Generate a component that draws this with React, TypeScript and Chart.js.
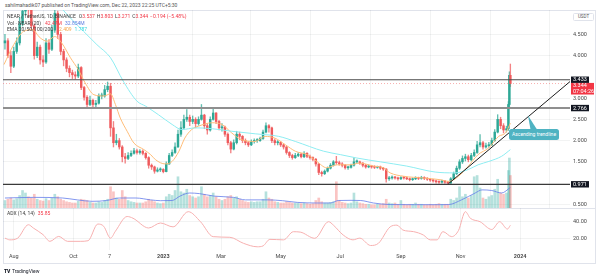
import React, { useEffect, useRef } from 'react';
import { Chart, registerables } from 'chart.js';

Chart.register(...registerables);

// x axis unit: days since 2022-08-01 (Aug 1, 2022 = 0)
const xMin = -11;
const xMax = 569;

const candleDays = [
  -9, -6, -3, 0, 3, 6, 9, 12, 15, 18,
  21, 24, 27, 30, 33, 36, 39, 42, 45, 48,
  51, 54, 57, 60, 63, 66, 69, 72, 75, 78,
  81, 84, 87, 90, 93, 96, 99, 102, 105, 108,
  111, 114, 117, 120, 123, 126, 129, 132, 135, 138,
  141, 144, 147, 150, 153, 156, 159, 162, 165, 168,
  171, 174, 177, 180, 183, 186, 189, 192, 195, 198,
  201, 204, 207, 210, 213, 216, 219, 222, 225, 228,
  231, 234, 237, 240, 243, 246, 249, 252, 255, 258,
  261, 264, 267, 270, 273, 276, 279, 282, 285, 288,
  291, 294, 297, 300, 303, 306, 309, 312, 315, 318,
  321, 324, 327, 330, 333, 336, 339, 342, 345, 348,
  351, 354, 357, 360, 363, 366, 369, 372, 375, 378,
  381, 384, 387, 390, 393, 396, 399, 402, 405, 408,
  411, 414, 417, 420, 423, 426, 429, 432, 435, 438,
  441, 444, 447, 450, 453, 456, 459, 462, 465, 468,
  471, 474, 477, 480, 483, 486, 489, 492, 495, 498,
  501, 504, 506, 507, 508,
];

const firstOpen = 4.3;

const closes = [
  4.35, 4.0, 3.75, 4.1, 4.3, 4.75, 5.05, 5.3, 5.1, 4.7,
  4.0, 4.2, 3.9, 3.85, 4.3, 4.15, 4.6, 5.0, 4.5, 4.1,
  3.9, 3.7, 3.6, 3.55, 3.52, 3.72, 3.25, 3.02, 2.85, 2.95,
  2.85, 2.88, 3.05, 3.05, 3.2, 3.28, 2.3, 1.95, 2.0, 1.85,
  1.62, 1.58, 1.65, 1.7, 1.76, 1.72, 1.75, 1.7, 1.6, 1.42,
  1.38, 1.28, 1.31, 1.32, 1.27, 1.45, 1.65, 1.72, 1.85, 2.15,
  2.3, 2.5, 2.55, 2.45, 2.5, 2.4, 2.5, 2.6, 2.35, 2.25,
  2.5, 2.65, 2.45, 2.3, 2.32, 2.15, 1.95, 1.8, 1.95, 2.15,
  2.1, 2.0, 1.95, 1.9, 1.98, 2.0, 2.0, 2.05, 2.2, 2.35,
  2.3, 2.0, 1.95, 1.96, 1.9, 1.85, 1.72, 1.65, 1.6, 1.65,
  1.68, 1.62, 1.7, 1.63, 1.6, 1.56, 1.45, 1.25, 1.22, 1.28,
  1.35, 1.42, 1.5, 1.48, 1.45, 1.42, 1.36, 1.37, 1.42, 1.5,
  1.5, 1.47, 1.42, 1.38, 1.4, 1.38, 1.37, 1.38, 1.35, 1.33,
  1.1, 1.12, 1.14, 1.12, 1.1, 1.13, 1.12, 1.1, 1.08, 1.1,
  1.12, 1.11, 1.13, 1.11, 1.09, 1.07, 1.05, 1.03, 1.02, 1.05,
  1.02, 1.0, 1.1, 1.22, 1.35, 1.5, 1.58, 1.62, 1.55, 1.65,
  1.72, 1.9, 1.95, 1.85, 1.88, 1.9, 2.0, 2.2, 2.5, 2.35,
  2.25, 2.28, 2.85, 3.537, 3.344,
];

const highs = [
  4.5, 4.4, 4.1, 4.2, 4.42, 4.9, 5.3, 5.6, 5.5, 5.2,
  4.75, 4.32, 4.25, 4.0, 4.4, 4.38, 4.72, 5.15, 5.05, 4.55,
  4.15, 3.95, 3.76, 3.66, 3.62, 3.8, 3.74, 3.28, 3.06, 3.05,
  2.98, 2.95, 3.1, 3.12, 3.3, 3.38, 3.35, 2.45, 2.15, 2.05,
  1.88, 1.7, 1.72, 1.76, 1.82, 1.8, 1.79, 1.78, 1.72, 1.62,
  1.45, 1.4, 1.36, 1.36, 1.34, 1.5, 1.7, 1.78, 1.95, 2.25,
  2.45, 2.6, 2.73, 2.6, 2.58, 2.54, 2.56, 2.85, 2.62, 2.4,
  2.56, 2.76, 2.66, 2.48, 2.4, 2.34, 2.18, 1.98, 2.02, 2.22,
  2.2, 2.12, 2.04, 1.98, 2.02, 2.04, 2.05, 2.08, 2.25, 2.42,
  2.38, 2.32, 2.04, 2.0, 1.98, 1.92, 1.86, 1.74, 1.68, 1.7,
  1.72, 1.7, 1.74, 1.72, 1.66, 1.62, 1.58, 1.46, 1.28, 1.31,
  1.38, 1.46, 1.53, 1.63, 1.52, 1.48, 1.44, 1.4, 1.45, 1.6,
  1.55, 1.52, 1.48, 1.44, 1.43, 1.42, 1.41, 1.4, 1.4, 1.37,
  1.34, 1.16, 1.17, 1.16, 1.14, 1.15, 1.15, 1.14, 1.12, 1.12,
  1.15, 1.14, 1.16, 1.15, 1.13, 1.11, 1.09, 1.07, 1.05, 1.07,
  1.06, 1.04, 1.13, 1.26, 1.4, 1.55, 1.64, 1.68, 1.66, 1.7,
  1.78, 1.98, 2.14, 1.98, 1.94, 1.96, 2.06, 2.26, 2.61, 2.55,
  2.4, 2.34, 2.92, 3.62, 3.803,
];

const lows = [
  4.15, 3.95, 3.6, 3.72, 4.05, 4.25, 4.7, 4.95, 4.9, 4.6,
  3.92, 3.95, 3.8, 3.74, 3.82, 4.05, 4.12, 4.55, 4.4, 4.02,
  3.76, 3.62, 3.5, 3.46, 3.45, 3.48, 3.2, 2.95, 2.78, 2.82,
  2.78, 2.8, 2.86, 2.98, 3.02, 3.15, 2.1, 1.85, 1.9, 1.8,
  1.5, 1.47, 1.55, 1.62, 1.68, 1.68, 1.68, 1.66, 1.56, 1.35,
  1.32, 1.23, 1.26, 1.27, 1.24, 1.26, 1.44, 1.62, 1.7, 1.84,
  2.1, 2.28, 2.45, 2.35, 2.4, 2.3, 2.36, 2.48, 2.28, 2.15,
  2.22, 2.48, 2.4, 2.25, 2.22, 2.1, 1.9, 1.71, 1.78, 1.92,
  2.02, 1.95, 1.9, 1.86, 1.88, 1.94, 1.96, 1.98, 2.03, 2.18,
  2.2, 1.95, 1.9, 1.9, 1.86, 1.8, 1.68, 1.6, 1.56, 1.58,
  1.62, 1.59, 1.6, 1.6, 1.56, 1.52, 1.4, 1.2, 1.16, 1.2,
  1.26, 1.33, 1.4, 1.44, 1.42, 1.38, 1.33, 1.32, 1.35, 1.4,
  1.46, 1.44, 1.38, 1.35, 1.36, 1.35, 1.34, 1.35, 1.32, 1.3,
  1.02, 1.06, 1.09, 1.09, 1.07, 1.08, 1.09, 1.08, 1.05, 1.06,
  1.08, 1.08, 1.09, 1.08, 1.06, 1.04, 1.02, 1.0, 0.99, 1.0,
  0.99, 0.97, 0.99, 1.08, 1.2, 1.32, 1.46, 1.52, 1.5, 1.52,
  1.62, 1.7, 1.85, 1.8, 1.82, 1.84, 1.88, 1.98, 2.18, 2.28,
  2.18, 2.2, 2.24, 2.8, 3.271,
];

// volume, millions of NEAR
const volumes = [
  12, 14, 16, 13, 15, 20, 28, 24, 18, 16,
  22, 14, 12, 11, 15, 12, 16, 22, 18, 14,
  12, 10, 9, 8, 8, 11, 14, 13, 12, 9,
  8, 8, 10, 9, 12, 14, 34, 26, 16, 14,
  28, 18, 12, 10, 9, 8, 8, 8, 10, 14,
  12, 10, 8, 7, 8, 18, 22, 20, 28, 50,
  26, 24, 30, 20, 18, 16, 18, 34, 22, 18,
  20, 24, 18, 14, 12, 14, 18, 20, 16, 18,
  14, 12, 10, 9, 10, 9, 10, 10, 14, 26,
  16, 14, 10, 9, 8, 8, 10, 9, 8, 8,
  8, 7, 8, 7, 6, 7, 12, 16, 10, 8,
  8, 9, 10, 42, 12, 9, 8, 7, 8, 24,
  10, 8, 7, 6, 6, 5, 5, 6, 6, 7,
  14, 8, 7, 8, 6, 12, 6, 5, 6, 6,
  8, 6, 6, 5, 5, 6, 5, 6, 7, 6,
  6, 6, 14, 12, 16, 34, 18, 22, 16, 20,
  50, 52, 32, 16, 14, 18, 20, 30, 46, 24,
  22, 24, 60, 80, 52,
];

const volMaDays = [-9, 20, 50, 65, 80, 95, 108, 125, 140, 150, 162, 170, 180, 190, 205, 225, 237, 260, 275, 290, 310, 324, 332, 345, 355, 368, 385, 410, 436, 445, 458, 472, 479, 489, 499, 508];
const volMaValues = [16, 17, 16, 13, 10.7, 12, 16, 16, 13, 11.7, 12, 19, 24, 23, 19, 17, 13, 13, 11.7, 9, 8, 8, 12, 12.3, 12, 8, 5.5, 5.3, 5.3, 5.5, 13, 24, 29, 28, 24, 32.854];

const ema20Days = [-10, 0, 10, 19, 27, 34, 42, 49, 58, 66, 73, 82, 92, 99, 104, 109, 116, 123, 133, 140, 145, 155, 162, 169, 175, 182, 189, 203, 213, 223, 233, 247, 257, 267, 278, 288, 300, 310, 320, 331, 344, 354, 368, 378, 385, 399, 419, 436, 445, 455, 465, 475, 486, 496, 503, 508];
const ema20Values = [3.79, 4.26, 4.57, 4.61, 4.42, 4.34, 4.45, 4.3, 3.95, 3.67, 3.36, 3.08, 3.05, 3.1, 2.85, 2.53, 2.22, 1.94, 1.79, 1.67, 1.55, 1.45, 1.51, 1.75, 2.06, 2.26, 2.34, 2.42, 2.38, 2.18, 2.02, 1.98, 2.1, 2.06, 1.9, 1.75, 1.67, 1.51, 1.36, 1.43, 1.43, 1.47, 1.4, 1.36, 1.24, 1.16, 1.12, 1.08, 1.04, 1.16, 1.4, 1.67, 1.83, 2.1, 2.18, 2.409];

const ema100Days = [44, 54.5, 71.5, 85, 99, 112, 126, 135, 148, 162, 172, 186, 203, 223, 247, 271, 288, 317, 334, 351, 375, 402, 431, 451, 465, 475, 486, 499, 508];
const ema100Values = [5.25, 4.97, 4.57, 4.26, 3.95, 3.4, 2.93, 2.81, 2.61, 2.38, 2.26, 2.3, 2.28, 2.22, 2.16, 2.1, 1.98, 1.75, 1.67, 1.59, 1.5, 1.4, 1.26, 1.24, 1.32, 1.43, 1.51, 1.63, 1.787];

const adxDays = [-9, -4, 4, 15, 20, 30, 37, 46, 55, 68, 76, 86, 92, 99, 104, 116, 122, 138, 150, 163, 178.5, 191, 204, 221, 235, 249, 255, 262, 276, 286, 293, 308, 322, 327, 337, 347, 354, 365, 373, 385, 392, 398, 409, 419, 426, 433, 439, 448, 455, 462, 467, 477, 489, 497, 505, 508];
const adxValues = [21, 19, 21, 36.5, 32.7, 25, 17.3, 23, 17.3, 17.3, 18, 37.3, 34.7, 21, 29, 46, 44, 32.7, 38.5, 34, 51.6, 40, 22.7, 22, 15, 11, 12, 19.6, 19, 28.4, 28, 20.8, 40, 36, 24.6, 19, 21, 12.5, 15, 34, 36, 30.4, 28.5, 24.6, 19, 19, 28.5, 22.7, 30, 51.6, 44, 40, 31, 40, 31.5, 35.85];

const levelValues = [3.433, 2.766, 0.971];
const lastPrice = 3.344;
const countdownText = '07:04:26';
const trendDays = [444.7, 569];
const trendPrices = [0.986, 3.39];

const priceTicks = [0.5, 1.5, 2.0, 2.5, 3.0, 4.0, 4.5];
const adxTicks = [20, 40];
const monthTickDays = [0, 61, 98, 153, 212, 273, 334, 396, 457, 518];
const monthTickLabels = ['Aug', 'Oct', '7', '2023', 'Mar', 'May', 'Jul', 'Sep', 'Nov', '2024'];

// ---- styles ----
const UP = '#2ea896';
const DOWN = '#ef5a5c';
const GRID = 'rgba(42,46,57,0.06)';
const AXIS_TEXT = '#4a4a4a';
const levelStyles = [
  { color: '#4a4a4a', width: 1.2 },
  { color: '#8f8f8f', width: 2 },
  { color: '#3a3a3a', width: 1.2 },
];

const xy = (xs: number[], ys: number[]) => xs.map((x, i) => ({ x, y: ys[i] }));

export default function App() {
  const mainRef = useRef<HTMLCanvasElement>(null);
  const adxRef = useRef<HTMLCanvasElement>(null);

  useEffect(() => {
    Chart.defaults.font.family = 'Roboto, sans-serif';
    const opens = closes.map((c, i) => (i === 0 ? firstOpen : closes[i - 1]));
    const isUp = closes.map((c, i) => c >= opens[i]);

    const xTickBuild = (s: any) => {
      s.ticks = monthTickDays.map((v) => ({ value: v }));
    };

    const priceTagPlugin = {
      id: 'priceTags',
      afterDraw(chart: any) {
        const { ctx, chartArea, scales } = chart;
        const y = scales.y;
        const bx = chartArea.right + 1;
        ctx.save();
        ctx.font = '5.5px Roboto, sans-serif';
        ctx.textBaseline = 'middle';
        ctx.textAlign = 'left';
        levelValues.forEach((v) => {
          const py = y.getPixelForValue(v);
          ctx.fillStyle = '#131722';
          ctx.fillRect(bx, py - 3.2, 18, 6.4);
          ctx.fillStyle = '#ffffff';
          ctx.fillText(v.toFixed(3), bx + 2, py + 0.3);
        });
        const pl = y.getPixelForValue(lastPrice);
        ctx.fillStyle = '#f23645';
        ctx.fillRect(bx, pl - 0.6, 23, 11.6);
        ctx.fillStyle = '#ffffff';
        ctx.fillText(lastPrice.toFixed(3), bx + 2, pl + 2.4);
        ctx.fillText(countdownText, bx + 2, pl + 7.8);
        ctx.restore();
      },
    };

    const levelDatasets = levelValues.map((v, i) => ({
      type: 'line' as const,
      data: [{ x: xMin, y: v }, { x: xMax, y: v }],
      borderColor: levelStyles[i].color,
      borderWidth: levelStyles[i].width,
      pointRadius: 0,
      order: 2,
      yAxisID: 'y',
    }));

    const main = new Chart(mainRef.current!, {
      type: 'bar',
      data: {
        datasets: [
          {
            type: 'bar',
            data: candleDays.map((d, i) => ({ x: d, y: volumes[i] })),
            backgroundColor: isUp.map((u) => (u ? 'rgba(38,166,154,0.34)' : 'rgba(239,83,80,0.34)')),
            barThickness: 2,
            grouped: false,
            yAxisID: 'yv',
            order: 10,
          } as any,
          {
            type: 'line',
            data: xy(volMaDays, volMaValues),
            borderColor: 'rgba(100,125,235,0.8)',
            borderWidth: 1,
            pointRadius: 0,
            cubicInterpolationMode: 'monotone',
            yAxisID: 'yv',
            order: 9,
          },
          {
            type: 'bar',
            data: candleDays.map((d, i) => ({
              x: d,
              y: [Math.min(lows[i], opens[i], closes[i]), Math.max(highs[i], opens[i], closes[i])],
            })),
            backgroundColor: isUp.map((u) => (u ? 'rgba(46,168,150,0.75)' : 'rgba(239,90,92,0.75)')),
            barThickness: 0.7,
            grouped: false,
            yAxisID: 'y',
            order: 8,
          } as any,
          {
            type: 'bar',
            data: candleDays.map((d, i) => ({ x: d, y: [opens[i], closes[i]] })),
            backgroundColor: isUp.map((u) => (u ? UP : DOWN)),
            barThickness: 1.8,
            minBarLength: 1,
            grouped: false,
            yAxisID: 'y',
            order: 7,
          } as any,
          {
            type: 'line',
            data: xy(ema20Days, ema20Values),
            borderColor: '#ffbd78',
            borderWidth: 1,
            pointRadius: 0,
            cubicInterpolationMode: 'monotone',
            yAxisID: 'y',
            order: 5,
          },
          {
            type: 'line',
            data: xy(ema100Days, ema100Values),
            borderColor: '#8eedf2',
            borderWidth: 1,
            pointRadius: 0,
            cubicInterpolationMode: 'monotone',
            yAxisID: 'y',
            order: 4,
          },
          {
            type: 'line',
            data: [{ x: xMin, y: lastPrice }, { x: xMax, y: lastPrice }],
            borderColor: 'rgba(239,83,80,0.45)',
            borderWidth: 1,
            borderDash: [1, 2],
            pointRadius: 0,
            yAxisID: 'y',
            order: 3,
          },
          ...levelDatasets,
          {
            type: 'line',
            data: xy(trendDays, trendPrices),
            borderColor: '#1e1e1e',
            borderWidth: 1,
            pointRadius: 0,
            yAxisID: 'y',
            order: 1,
          },
        ] as any,
      },
      options: {
        animation: false,
        responsive: false,
        maintainAspectRatio: false,
        layout: { padding: { left: 3, right: 0, top: 0, bottom: 0 } },
        plugins: { legend: { display: false }, tooltip: { enabled: false } },
        scales: {
          x: {
            type: 'linear',
            min: xMin,
            max: xMax,
            offset: false,
            afterBuildTicks: xTickBuild,
            ticks: { display: false },
            grid: { color: GRID, drawTicks: false },
            border: { display: false },
            afterFit: (s: any) => {
              s.height = 0;
            },
          },
          y: {
            type: 'linear',
            position: 'right',
            min: 0.413,
            max: 5.075,
            afterBuildTicks: (s: any) => {
              s.ticks = priceTicks.map((v) => ({ value: v }));
            },
            ticks: {
              padding: 3,
              color: AXIS_TEXT,
              font: { size: 5.5 },
              callback: (v: any) => Number(v).toFixed(3),
            },
            grid: { color: GRID, drawTicks: false },
            border: { display: false },
            afterFit: (s: any) => {
              s.width = 30;
              s.paddingTop = 0;
              s.paddingBottom = 0;
            },
          },
          yv: { type: 'linear', display: false, min: 0, max: 317 },
        } as any,
      },
      plugins: [priceTagPlugin],
    });

    const adx = new Chart(adxRef.current!, {
      type: 'line',
      data: {
        datasets: [
          {
            data: xy(adxDays, adxValues),
            borderColor: '#f7b0b0',
            borderWidth: 1,
            pointRadius: 0,
            cubicInterpolationMode: 'monotone',
          },
        ],
      },
      options: {
        animation: false,
        responsive: false,
        maintainAspectRatio: false,
        layout: { padding: { left: 3, right: 0, top: 0, bottom: 0 } },
        plugins: { legend: { display: false }, tooltip: { enabled: false } },
        scales: {
          x: {
            type: 'linear',
            min: xMin,
            max: xMax,
            offset: false,
            afterBuildTicks: xTickBuild,
            ticks: {
              padding: 3,
              color: AXIS_TEXT,
              maxRotation: 0,
              autoSkip: false,
              font: (c: any) => {
                const lbl = monthTickLabels[monthTickDays.indexOf(c.tick ? c.tick.value : -999)] || '';
                return { size: 5.5, weight: /^\d{4}$/.test(lbl) ? 'bold' : 'normal' };
              },
              callback: (v: any) => monthTickLabels[monthTickDays.indexOf(Number(v))] || '',
            },
            grid: { color: GRID, drawTicks: false },
            border: { display: false },
            afterFit: (s: any) => {
              s.height = 14;
            },
          },
          y: {
            type: 'linear',
            position: 'right',
            min: 7.28,
            max: 55.84,
            afterBuildTicks: (s: any) => {
              s.ticks = adxTicks.map((v) => ({ value: v }));
            },
            ticks: {
              padding: 3,
              color: AXIS_TEXT,
              font: { size: 5.5 },
              callback: (v: any) => Number(v).toFixed(2),
            },
            grid: { color: GRID, drawTicks: false },
            border: { display: false },
            afterFit: (s: any) => {
              s.width = 30;
              s.paddingTop = 0;
              s.paddingBottom = 0;
            },
          },
        } as any,
      },
    });

    return () => {
      main.destroy();
      adx.destroy();
    };
  }, []);

  const small: React.CSSProperties = {
    position: 'absolute',
    fontFamily: 'Roboto, sans-serif',
    fontSize: 5,
    lineHeight: '6px',
    whiteSpace: 'nowrap',
    color: '#3c3c3c',
  };
  const red = { color: '#f23645' };

  return (
    <div style={{ position: 'absolute', left: 0, top: 0, width: 600, height: 275, background: '#ffffff', overflow: 'hidden' }}>
      <div style={{ ...small, left: 5, top: 2, color: '#555' }}>
        sahilmahadik07 published on TradingView.com, Dec 22, 2023 22:25 UTC+5:30
      </div>
      <div style={{ position: 'absolute', left: 3, top: 10, width: 593, height: 254, border: '1px solid #e0e3eb', boxSizing: 'border-box' }} />
      <canvas ref={mainRef} width={600} height={198} style={{ position: 'absolute', left: 0, top: 10, width: 600, height: 198 }} />
      <div style={{ position: 'absolute', left: 3, top: 208, width: 593, height: 1, background: '#e0e3eb' }} />
      <canvas ref={adxRef} width={600} height={56} style={{ position: 'absolute', left: 0, top: 208, width: 600, height: 56 }} />

      <div style={{ ...small, left: 7, top: 12.7 }}>
        NEAR / TetherUS, 1D, BINANCE
        <span style={{ marginLeft: 3 }}>O</span><span style={red}>3.537</span>
        <span style={{ marginLeft: 2 }}>H</span><span style={red}>3.803</span>
        <span style={{ marginLeft: 2 }}>L</span><span style={red}>3.271</span>
        <span style={{ marginLeft: 2 }}>C</span><span style={red}>3.344</span>
        <span style={{ ...red, marginLeft: 2 }}>−0.194 (−5.48%)</span>
      </div>
      <div style={{ ...small, left: 7, top: 19.7 }}>
        Vol · NEAR (20)
        <span style={{ ...red, marginLeft: 4 }}>42.47M</span>
        <span style={{ color: '#5b7be0', marginLeft: 3 }}>32.854M</span>
      </div>
      <div style={{ ...small, left: 7, top: 26 }}>
        EMA 20/50/100/200
        <span style={{ color: '#f5a54a', marginLeft: 6 }}>2.409</span>
        <span style={{ color: '#38d6de', marginLeft: 3 }}>1.787</span>
      </div>
      <div style={{ ...small, left: 7, top: 210.3 }}>
        ADX (14, 14)
        <span style={{ ...red, marginLeft: 3 }}>35.85</span>
      </div>

      <div
        style={{
          position: 'absolute', left: 573, top: 13, width: 21, height: 7.5, border: '1px solid #e0e3eb',
          boxSizing: 'border-box', borderRadius: 1.5, fontFamily: 'Roboto, sans-serif', fontSize: 4.5,
          lineHeight: '5.5px', textAlign: 'center', color: '#555', background: '#fff',
        }}
      >
        USDT
      </div>

      <div
        style={{
          position: 'absolute', left: 526, top: 115.5, width: 12, height: 14, background: '#4fb3c2',
          clipPath: 'polygon(2px 0px, 4.5px 14px, 11px 14px)',
        }}
      />
      <div
        style={{
          position: 'absolute', left: 509, top: 128.5, width: 50, height: 11.2, background: '#4fb3c2',
          borderRadius: 2.5, color: '#ffffff', fontFamily: 'Roboto, sans-serif', fontSize: 5,
          lineHeight: '11.2px', textAlign: 'center', whiteSpace: 'nowrap',
        }}
      >
        Ascending trendline
      </div>

      <div style={{ ...small, left: 4, top: 268, color: '#131722' }}>
        <span style={{ fontWeight: 900, letterSpacing: -0.3 }}>TV</span>
        <span style={{ marginLeft: 2 }}>TradingView</span>
      </div>
    </div>
  );
}
